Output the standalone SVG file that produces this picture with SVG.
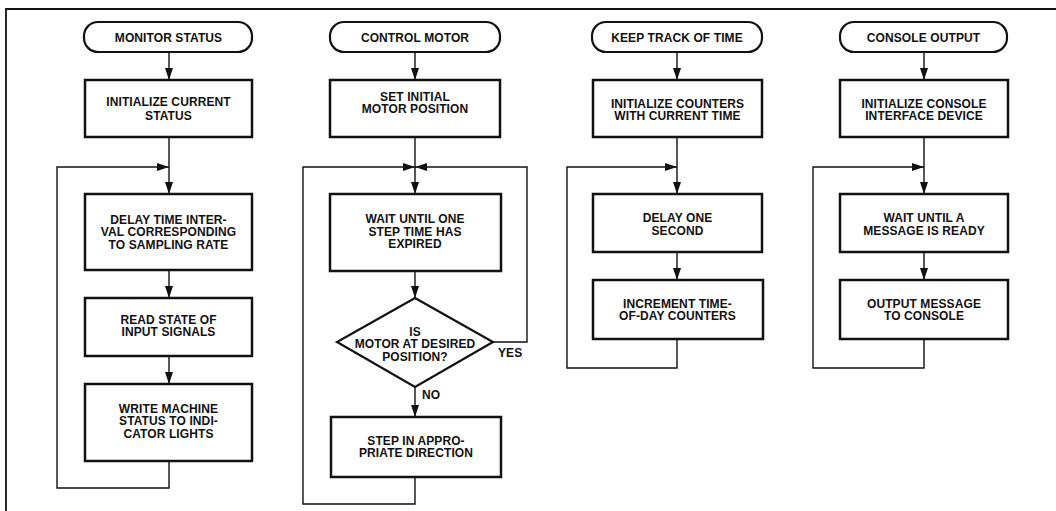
<svg xmlns="http://www.w3.org/2000/svg" width="1056" height="511" viewBox="0 0 1056 511">
  <style>
    .frame { fill: none; stroke: #111; stroke-width: 1.8; }
    .term { fill: #fff; stroke: #111; stroke-width: 2.2; }
    .box { fill: #fff; stroke: #111; stroke-width: 2.5; }
    .wire { fill: none; stroke: #111; stroke-width: 1.4; }
    text { font-family: "Liberation Sans", Arial, Helvetica, sans-serif; font-weight: bold; font-size: 12px; letter-spacing: 0.1px; fill: #111; text-anchor: middle; }
    text.lbl { text-anchor: start; }
  </style>
  <defs>
    <marker id="arrow" markerUnits="userSpaceOnUse" markerWidth="14" markerHeight="10" refX="12" refY="4" orient="auto">
      <path d="M0,0 L12,4 L0,8 z" fill="#111"/>
    </marker>
  </defs>

  <rect width="1056" height="511" fill="#fff"/>

  <!-- page frame: top rule and left rule -->
  <path class="frame" d="M6,511 V9 H1056"/>

  <!-- connectors -->
  <g id="connectors">
    <!-- monitor status -->
    <path class="wire" d="M169,52 V80" marker-end="url(#arrow)"/>
    <path class="wire" d="M169,137 V194" marker-end="url(#arrow)"/>
    <path class="wire" d="M169,461 V488 H57 V167 H169" marker-end="url(#arrow)"/>
    <path class="wire" d="M169,270 V298" marker-end="url(#arrow)"/>
    <path class="wire" d="M169,356 V384" marker-end="url(#arrow)"/>

    <!-- control motor -->
    <path class="wire" d="M415,52 V80" marker-end="url(#arrow)"/>
    <path class="wire" d="M415,137 V194" marker-end="url(#arrow)"/>
    <path class="wire" d="M415,271 V298" marker-end="url(#arrow)"/>
    <path class="wire" d="M493,342 H527 V167 H415" marker-end="url(#arrow)"/>
    <path class="wire" d="M415,387 V417" marker-end="url(#arrow)"/>
    <path class="wire" d="M415,477 V504 H303 V167 H415" marker-end="url(#arrow)"/>

    <!-- keep track of time -->
    <path class="wire" d="M677,52 V80" marker-end="url(#arrow)"/>
    <path class="wire" d="M677,137 V194" marker-end="url(#arrow)"/>
    <path class="wire" d="M677,252 V280" marker-end="url(#arrow)"/>
    <path class="wire" d="M677,339 V368 H567 V167 H677" marker-end="url(#arrow)"/>

    <!-- console output -->
    <path class="wire" d="M924,52 V80" marker-end="url(#arrow)"/>
    <path class="wire" d="M924,137 V194" marker-end="url(#arrow)"/>
    <path class="wire" d="M924,252 V280" marker-end="url(#arrow)"/>
    <path class="wire" d="M924,339 V368 H813 V167 H924" marker-end="url(#arrow)"/>
  </g>

  <!-- MONITOR STATUS -->
  <g id="monitor-status">
    <rect class="term" x="84" y="22" width="168" height="30" rx="14"/>
    <text x="168.5" y="41.5">MONITOR STATUS</text>
  </g>
  <g id="init-status">
    <rect class="box" x="85" y="80" width="167" height="57"/>
    <text x="168.5" y="106">INITIALIZE CURRENT</text>
    <text x="168.5" y="119.5">STATUS</text>
  </g>
  <g id="delay-interval">
    <rect class="box" x="85" y="194" width="167" height="76"/>
    <text x="168.5" y="223.5">DELAY TIME INTER-</text>
    <text x="168.5" y="236">VAL CORRESPONDING</text>
    <text x="168.5" y="248.5">TO SAMPLING RATE</text>
  </g>
  <g id="read-inputs">
    <rect class="box" x="85" y="298" width="167" height="58"/>
    <text x="168.5" y="323.5">READ STATE OF</text>
    <text x="168.5" y="335.5">INPUT SIGNALS</text>
  </g>
  <g id="write-lights">
    <rect class="box" x="85" y="384" width="167" height="77"/>
    <text x="168.5" y="412.5">WRITE MACHINE</text>
    <text x="168.5" y="425">STATUS TO INDI-</text>
    <text x="168.5" y="437.5">CATOR LIGHTS</text>
  </g>

  <!-- CONTROL MOTOR -->
  <g id="control-motor">
    <rect class="term" x="330" y="22" width="170" height="30" rx="14"/>
    <text x="415" y="41.5">CONTROL MOTOR</text>
  </g>
  <g id="set-position">
    <rect class="box" x="330" y="80" width="170" height="57"/>
    <text x="415" y="100.5">SET INITIAL</text>
    <text x="415" y="112.5">MOTOR POSITION</text>
  </g>
  <g id="wait-step">
    <rect class="box" x="330" y="194" width="171" height="77"/>
    <text x="415" y="223">WAIT UNTIL ONE</text>
    <text x="415" y="235.5">STEP TIME HAS</text>
    <text x="415" y="248">EXPIRED</text>
  </g>
  <g id="at-position">
    <polygon class="term" points="415,298 493,342 415,387 337,342"/>
    <text x="415" y="335.5">IS</text>
    <text x="415" y="347.5">MOTOR AT DESIRED</text>
    <text x="415" y="360.5">POSITION?</text>
    <text class="lbl" x="498" y="356.5">YES</text>
    <text class="lbl" x="422" y="398.5">NO</text>
  </g>
  <g id="step-direction">
    <rect class="box" x="331" y="417" width="170" height="60"/>
    <text x="416" y="444.5">STEP IN APPRO-</text>
    <text x="416" y="456.5">PRIATE DIRECTION</text>
  </g>

  <!-- KEEP TRACK OF TIME -->
  <g id="keep-time">
    <rect class="term" x="592" y="22" width="170" height="30" rx="14"/>
    <text x="677" y="41.5">KEEP TRACK OF TIME</text>
  </g>
  <g id="init-counters">
    <rect class="box" x="593" y="80" width="169" height="57"/>
    <text x="677.5" y="107.5">INITIALIZE COUNTERS</text>
    <text x="677.5" y="119.5">WITH CURRENT TIME</text>
  </g>
  <g id="delay-second">
    <rect class="box" x="593" y="194" width="169" height="58"/>
    <text x="677.5" y="221.5">DELAY ONE</text>
    <text x="677.5" y="234.5">SECOND</text>
  </g>
  <g id="increment-counters">
    <rect class="box" x="593" y="280" width="170" height="59"/>
    <text x="677.5" y="307.5">INCREMENT TIME-</text>
    <text x="677.5" y="319.5">OF-DAY COUNTERS</text>
  </g>

  <!-- CONSOLE OUTPUT -->
  <g id="console-output">
    <rect class="term" x="840" y="22" width="167" height="30" rx="14"/>
    <text x="923.5" y="41.5">CONSOLE OUTPUT</text>
  </g>
  <g id="init-console">
    <rect class="box" x="840" y="80" width="168" height="57"/>
    <text x="924" y="107.5">INITIALIZE CONSOLE</text>
    <text x="924" y="119.5">INTERFACE DEVICE</text>
  </g>
  <g id="wait-message">
    <rect class="box" x="840" y="194" width="168" height="58"/>
    <text x="924" y="221.5">WAIT UNTIL A</text>
    <text x="924" y="234.5">MESSAGE IS READY</text>
  </g>
  <g id="output-message">
    <rect class="box" x="840" y="280" width="168" height="59"/>
    <text x="924" y="307.5">OUTPUT MESSAGE</text>
    <text x="924" y="319.5">TO CONSOLE</text>
  </g>
</svg>
